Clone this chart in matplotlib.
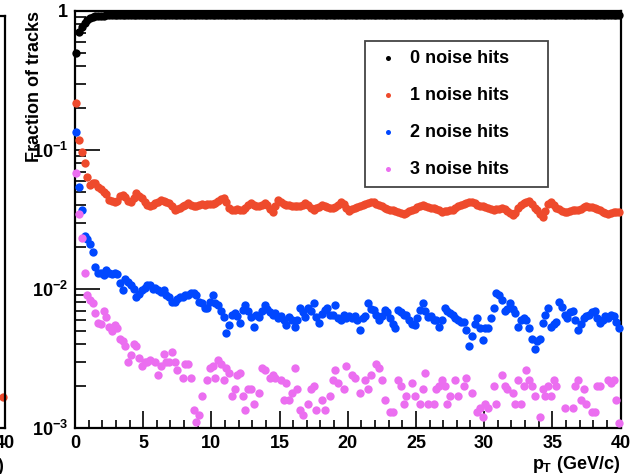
import numpy as np
import matplotlib
matplotlib.use("Agg")
import matplotlib.pyplot as plt
from matplotlib.ticker import FixedLocator, MultipleLocator, LogLocator, NullFormatter

plt.rcParams["font.family"] = "Liberation Sans"
plt.rcParams["font.weight"] = "bold"
plt.rcParams["mathtext.fontset"] = "custom"
plt.rcParams["mathtext.rm"] = "Liberation Sans:bold"
plt.rcParams["mathtext.it"] = "Liberation Sans:bold"
plt.rcParams["mathtext.bf"] = "Liberation Sans:bold"

# 200 pT bins of 0.2 GeV/c, 0 - 40 GeV/c
n_bins = 200
pt_lo, pt_hi = 0.0, 40.0

# fraction of tracks with 0 noise hits (x 1e-3)
frac0 = [500, 710, 772, 817, 861, 890, 905, 915, 920, 925,
         928, 930, 930, 932, 932, 933, 933, 934, 934, 934,
         935, 934, 935, 936, 935, 935, 936, 935, 934, 935,
         935, 936, 935, 935, 934, 936, 937, 936, 935, 935,
         935, 934, 935, 935, 936, 935, 935, 935, 935, 934,
         934, 935, 934, 933, 934, 936, 937, 936, 936, 936,
         936, 935, 935, 935, 935, 935, 936, 935, 935, 934,
         936, 937, 937, 935, 934, 935, 935, 935, 936, 936,
         936, 935, 935, 936, 935, 935, 936, 937, 936, 936,
         935, 934, 935, 936, 936, 935, 935, 934, 935, 936,
         936, 936, 935, 935, 935, 935, 934, 934, 934, 934,
         935, 935, 936, 936, 936, 937, 937, 937, 937, 937,
         937, 937, 936, 936, 936, 935, 935, 935, 935, 935,
         936, 936, 936, 936, 937, 936, 936, 936, 937, 937,
         936, 936, 935, 935, 934, 934, 935, 936, 936, 936,
         936, 937, 936, 936, 936, 936, 936, 937, 936, 937,
         937, 936, 936, 935, 935, 934, 934, 935, 936, 937,
         937, 938, 936, 935, 935, 936, 936, 936, 937, 937,
         937, 936, 936, 936, 936, 936, 936, 935, 936, 936,
         936, 936, 937, 937, 937, 937, 937, 937, 937, 937]

# 1 noise hit (x 1e-4)
frac1 = [2170, 1180, 970, 800, 640, 560, 575, 580, 540, 520,
         500, 480, 440, 430, 424, 430, 465, 474, 460, 430,
         420, 450, 488, 470, 450, 424, 405, 393, 400, 414,
         425, 436, 430, 420, 414, 395, 370, 375, 385, 393,
         400, 414, 405, 393, 393, 400, 408, 405, 408, 408,
         412, 417, 430, 445, 455, 420, 385, 370, 372, 375,
         373, 373, 385, 400, 414, 405, 395, 393, 400, 414,
         400, 375, 360, 395, 436, 425, 410, 405, 401, 398,
         395, 393, 393, 400, 414, 400, 380, 370, 380, 392,
         401, 398, 390, 385, 382, 390, 405, 424, 410, 380,
         365, 375, 385, 390, 393, 400, 410, 418, 424, 420,
         410, 400, 393, 385, 378, 372, 370, 365, 358, 352,
         349, 355, 362, 370, 378, 388, 396, 401, 395, 388,
         384, 382, 376, 368, 360, 362, 366, 370, 372, 385,
         395, 401, 410, 418, 422, 424, 415, 405, 398, 393,
         388, 380, 374, 370, 374, 378, 382, 376, 365, 350,
         341, 355, 380, 401, 415, 425, 432, 410, 385, 370,
         345, 330, 365, 410, 424, 400, 382, 374, 366, 360,
         360, 364, 368, 370, 372, 378, 386, 393, 390, 386,
         382, 378, 370, 360, 352, 349, 352, 356, 360, 360]

# 2 noise hits (x 1e-5)
frac2 = [13550, 5400, 3700, 2400, 2300, 2100, 1860, 1440, 1310, 1300,
         1260, 1370, 1300, 1280, 1300, 1290, 1100, 990, 1180, 1120,
         1060, 1000, 880, 920, 980, 1010, 1070, 1060, 1000, 1010,
         980, 950, 980, 900, 880, 810, 800, 850, 880, 880,
         900, 910, 930, 930, 900, 810, 790, 730, 730, 800,
         900, 790, 770, 700, 630, 480, 550, 650, 670, 640,
         570, 710, 770, 700, 630, 530, 650, 630, 690, 770,
         720, 680, 650, 670, 620, 640, 600, 550, 630, 600,
         530, 600, 730, 680, 630, 730, 700, 790, 630, 570,
         660, 710, 730, 650, 650, 770, 620, 600, 650, 620,
         640, 620, 640, 600, 510, 620, 640, 790, 720, 710,
         650, 600, 640, 710, 680, 620, 560, 520, 710, 680,
         650, 650, 600, 560, 550, 620, 710, 790, 700, 630,
         640, 600, 600, 530, 600, 730, 700, 670, 650, 620,
         600, 580, 580, 510, 390, 460, 560, 620, 520, 430,
         520, 520, 620, 730, 930, 900, 830, 690, 720, 790,
         720, 670, 530, 600, 620, 600, 520, 440, 370, 420,
         440, 570, 650, 730, 530, 560, 580, 810, 740, 650,
         620, 680, 690, 600, 510, 560, 620, 640, 650, 680,
         690, 620, 570, 600, 640, 620, 650, 640, 580, 520]

# 3 noise hits (x 1e-5), 0 = empty bin
frac3 = [6800, 3460, 2320, 1310, 906, 840, 790, 670, 570, 560,
         690, 630, 530, 500, 550, 520, 440, 420, 390, 300,
         335, 400, 390, 320, 280, 300, 300, 310, 0, 300,
         240, 280, 340, 300, 300, 350, 300, 260, 0, 230,
         290, 290, 230, 135, 110, 124, 170, 0, 220, 270,
         280, 230, 310, 290, 220, 270, 250, 170, 190, 240,
         250, 170, 135, 190, 190, 150, 0, 180, 270, 260,
         0, 230, 240, 230, 0, 220, 160, 210, 160, 180,
         270, 190, 135, 124, 0, 150, 190, 200, 135, 0,
         160, 135, 0, 170, 220, 260, 210, 0, 190, 280,
         0, 240, 230, 0, 180, 0, 220, 190, 240, 0,
         290, 270, 220, 160, 0, 130, 130, 0, 220, 200,
         150, 170, 0, 210, 170, 0, 150, 190, 250, 150,
         0, 150, 190, 200, 220, 200, 150, 170, 0, 220,
         170, 0, 200, 230, 0, 180, 0, 130, 140, 120,
         150, 140, 0, 200, 150, 0, 240, 200, 190, 0,
         180, 150, 220, 150, 200, 260, 220, 200, 170, 0,
         120, 190, 170, 200, 170, 220, 200, 0, 0, 140,
         0, 0, 140, 200, 220, 160, 190, 150, 0, 130,
         130, 200, 200, 0, 0, 220, 210, 220, 160, 108]

labels = ["0 noise hits", "1 noise hits", "2 noise hits", "3 noise hits"]
colors = ["#000000", "#ee4a2c", "#0047ff", "#eb6ef0"]

# neighbouring panel (only its right edge is inside the crop)
prev_x = [39.9]
prev_y = [0.076]

edges = np.linspace(pt_lo, pt_hi, n_bins + 1)
pt = 0.5 * (edges[:-1] + edges[1:])

series = [np.array(frac0) * 1e-3, np.array(frac1) * 1e-4,
          np.array(frac2) * 1e-5, np.array(frac3) * 1e-5]

fig = plt.figure(figsize=(6.32, 4.74), dpi=100)

# main panel
ax = fig.add_axes([75 / 632, 46 / 474, 545.5 / 632, 417 / 474])
for y, c, lab in zip(series, colors, labels):
    y = np.where(y > 0, y, np.nan)
    ax.scatter(pt, y, s=36, color=c, linewidths=0, label=lab, clip_on=False, zorder=3)

ax.set_yscale("log")
ax.set_xlim(pt_lo, pt_hi)
ax.set_ylim(1e-3, 1)

ax.xaxis.set_major_locator(MultipleLocator(5))
ax.xaxis.set_minor_locator(MultipleLocator(1))
ax.yaxis.set_major_locator(FixedLocator([1e-3, 1e-2, 1e-1, 1]))
ax.set_yticklabels([r"$10^{-3}$", r"$10^{-2}$", r"$10^{-1}$", "1"])
ax.yaxis.set_minor_locator(LogLocator(base=10, subs=np.arange(2, 10)))
ax.yaxis.set_minor_formatter(NullFormatter())

ax.tick_params(which="both", direction="in", top=False, right=False, color="k")
ax.tick_params(axis="x", which="major", length=12, width=1.2, pad=5, labelsize=13)
ax.tick_params(axis="x", which="minor", length=6, width=1.2)
ax.tick_params(axis="y", which="major", length=18, width=1.2, pad=5, labelsize=13)
ax.tick_params(axis="y", which="minor", length=8, width=1.2)
for sp in ax.spines.values():
    sp.set_linewidth(1.6)

ax.set_ylabel("Fraction of tracks", fontsize=13, fontweight="bold", loc="top")
ax.yaxis.set_label_coords(-0.058, 1.0)
ax.set_xlabel(r"$p_{T}$ (GeV/c)", fontsize=13, fontweight="bold", loc="right")
ax.xaxis.set_label_coords(1.0, -0.062)
ax.xaxis.label.set_horizontalalignment("right")

leg = ax.legend(loc="upper left", bbox_to_anchor=(0.532, 0.578, 0.335, 0.350),
                mode="expand", fontsize=13, markerscale=0.6, fancybox=False,
                framealpha=1, edgecolor="#444444", borderpad=0.5,
                handlelength=1.56, handletextpad=0.44, labelspacing=1.11,
                borderaxespad=0)
leg.get_frame().set_linewidth(1.3)

# right edge of the panel to the left
ax0 = fig.add_axes([4.5 / 632 - 0.8, 46 / 474, 0.8, (474 - 16 - 46) / 474])
ax0.scatter(prev_x, prev_y, s=36, color=colors[1], linewidths=0, clip_on=False)
ax0.set_xlim(pt_lo, pt_hi)
ax0.set_ylim(0, 1)
ax0.xaxis.set_major_locator(MultipleLocator(5))
ax0.set_yticks([])
ax0.tick_params(direction="in", labelsize=13, length=12, width=1.2, pad=5)
for sp in ax0.spines.values():
    sp.set_linewidth(1.6)
ax0.set_xlabel(r"$p_{T}$ (GeV/c)", fontsize=13, fontweight="bold", loc="right")
ax0.xaxis.set_label_coords(1.0, -0.068)
ax0.xaxis.label.set_horizontalalignment("right")

fig.savefig("out.png", dpi=100)
